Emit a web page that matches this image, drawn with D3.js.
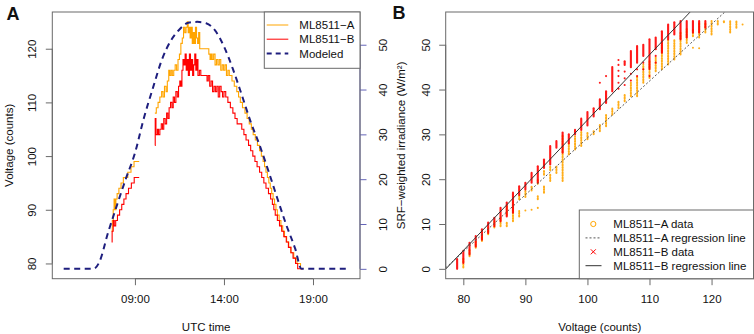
<!DOCTYPE html>
<html>
<head>
<meta charset="utf-8">
<script src="https://cdn.jsdelivr.net/npm/d3@7"></script>
<style>
  body { margin: 0; background: #fff; }
  svg { display: block; font-family: "Liberation Sans", Arial, Helvetica, sans-serif; }
  text { fill: #111; }
</style>
</head>
<body>
<div id="chart"></div>
<script>
// ---- panel A: time series (decimal UTC hours) ----
const timeA = [7.69, 7.73, 7.78, 7.83, 7.88, 7.93, 8.00, 8.10, 8.22, 8.35, 8.60, 8.78, 8.95, 9.24, 9.25,
  10.12, 10.20, 10.30, 10.40, 10.50, 10.58, 10.66, 10.75, 10.82, 10.90, 10.96, 11.03, 11.10, 11.18, 11.26,
  11.34, 11.42, 11.50, 11.58, 11.66, 11.73, 11.80, 11.87, 11.94, 11.99, 12.04, 12.10, 12.16, 12.22, 12.28,
  12.34, 12.40, 12.46, 12.52, 12.58, 12.64, 13.15, 13.22, 13.28, 13.34, 13.42, 13.50, 13.58, 13.66, 13.74,
  13.82, 13.90, 13.98, 14.06, 14.14, 14.22, 14.30, 14.45, 14.58, 14.72, 14.82, 14.92, 15.04, 15.18, 15.30,
  15.42, 15.54, 15.64, 15.76, 15.88, 16.00, 16.10, 16.20, 16.28, 16.36, 16.44, 16.52, 16.60, 16.68, 16.76,
  16.84, 16.92, 17.00, 17.10, 17.20, 17.30, 17.40, 17.52, 17.64, 17.76, 17.92, 18.10, 18.30, 18.43];
const voltA = [86, 88, 90, 92, 90, 92, 93, 94, 95, 96, 97, 98, 99, 99, null,
  108, 109, 110, 111, 112, 111, 113, 112, 114, 116, 115, 116, 115, 116, 117,
  116, 118, 119, 121, 122, 124, 123, 124, 125, 123, 124, 122, 124, 121, 123,
  121, 124, 122, 121, 123, 120, 119, 118, 119, 118, 119, 117, 118, 117, 118,
  116, 117, 116, 117, 115, 116, 115, 114, 113, 112, 111, 110, 109, 108, 107,
  106, 105, 104, 103, 102, 101, 100, 99, 98, 97, 96, 95, 94, 93, 92,
  91, 90, 89, 88, 87, 86, 85, 84, 83, 82, 81, 80, 79, 79];

const timeB = [7.69, 7.72, 7.78, 7.84, 7.92, 8.02, 8.14, 8.26, 8.38, 8.50, 8.64, 8.80, 8.96, 9.24, 9.25,
  10.12, 10.14, 10.18, 10.26, 10.32, 10.40, 10.48, 10.55, 10.62, 10.70, 10.78, 10.85, 10.92, 11.00, 11.08,
  11.15, 11.22, 11.30, 11.38, 11.45, 11.52, 11.58, 11.64, 11.70, 11.76, 11.82, 11.88, 11.94, 12.00, 12.06,
  12.12, 12.18, 12.24, 12.30, 12.36, 12.42, 12.48, 12.54, 12.62, 12.70, 13.05, 13.12, 13.20, 13.28, 13.36,
  13.44, 13.52, 13.60, 13.68, 13.76, 13.84, 13.92, 14.00, 14.10, 14.22, 14.36, 14.50, 14.62, 14.74, 14.88,
  15.00, 15.12, 15.24, 15.38, 15.50, 15.62, 15.74, 15.86, 16.00, 16.12, 16.24, 16.36, 16.50, 16.62, 16.72,
  16.80, 16.88, 17.00, 17.12, 17.24, 17.36, 17.50, 17.62, 17.76, 17.88, 18.02, 18.14, 18.43];
const voltB = [84, 86, 88, 87, 88, 89, 90, 91, 92, 93, 94, 95, 96, 96, null,
  102, 107, 104, 105, 104, 105, 106, 105, 107, 106, 108, 107, 109, 110, 109,
  111, 110, 112, 111, 113, 114, 113, 116, 118, 117, 119, 116, 118, 115, 119,
  116, 118, 115, 117, 119, 116, 118, 115, 116, 115, 114, 115, 113, 114, 112,
  113, 112, 113, 111, 113, 112, 111, 112, 111, 110, 109, 108, 107, 106, 106,
  105, 104, 103, 102, 101, 100, 99, 98, 97, 96, 95, 94, 93, 92, 91,
  90, 89, 88, 87, 86, 85, 84, 83, 82, 81, 80, 79, 79];

const timeModel = [5.0, 6.0, 6.67, 7.0, 7.5, 8.0, 8.5, 9.0, 9.5, 10.0, 10.5, 11.0, 11.5, 12.0, 12.5,
  13.0, 13.5, 14.0, 14.5, 15.0, 15.5, 16.0, 16.5, 17.0, 17.5, 18.0, 18.35, 19.0, 21.0];
const irrModel = [0, 0, 0, 1.5, 8.2, 14.3, 20.2, 25.8, 33.6, 40.2, 46.5, 50.8, 53.4, 54.9, 55.1,
  54.8, 53.2, 49.6, 44.6, 38.8, 32.8, 27.6, 21.8, 15.7, 9.8, 4.5, 0, 0, 0];

const timeTicks = [9, 14, 19];
const timeTickLabels = ["09:00", "14:00", "19:00"];

// ---- panel B: irradiance vs voltage, stacks of points per count [voltage, low, high] ----
const scatterA = [
  [80, 0.3, 2.5], [81, 2.8, 4.3], [82, 4.7, 6.2], [83, 6.2, 7.7], [84, 7.7, 9.2], [85, 9.2, 10.6],
  [86, 9.5, 11.7], [87, 9.5, 10.6], [87, 12, 14], [88, 10.6, 15.1], [89, 11.7, 12.9], [89, 15.5, 16.5],
  [90, 13.0, 13.0], [90, 16, 17.5], [91, 13.2, 13.2], [91, 17.5, 18.5], [92, 13.6, 13.6], [92, 15.5, 16.2],
  [92, 19, 20], [93, 17, 18.4], [93, 21, 22], [94, 19.6, 21], [94, 22, 23], [95, 21.4, 22.9],
  [96, 19.6, 30], [97, 25.5, 28.1], [98, 26.6, 29.6], [99, 27.4, 30.7], [100, 28.9, 30.4], [101, 30, 30.7],
  [102, 30.7, 32.2], [103, 31.8, 34.4], [104, 34.4, 35.9], [105, 35.9, 37.4], [106, 37.4, 38.9],
  [107, 38.5, 41.5], [108, 38.5, 43], [109, 41.5, 45.6], [110, 42.6, 46.3], [111, 44.1, 47.1],
  [112, 44.5, 50.4], [113, 45.6, 51.2], [114, 46.7, 51.2], [115, 47.8, 53], [116, 50.4, 53.8],
  [117, 49.3, 49.3], [117, 51.9, 53.4], [118, 49.2, 49.2], [118, 51.6, 54.9], [119, 52.7, 54.9],
  [120, 52.3, 55.3], [121, 54.5, 55.3], [122, 55, 55.3], [123, 52.7, 55.3], [124, 53.8, 55.3], [125, 54.5, 54.5]
];
const scatterB = [
  [79, 0, 2.2], [80, 1.3, 4], [81, 3.2, 5.8], [82, 5, 7.3], [83, 6.5, 8.8], [84, 8, 10.3],
  [85, 9.5, 11.4], [86, 10.6, 13.6], [87, 11.7, 14.8], [88, 12.5, 17], [89, 16.5, 18.4], [90, 17.7, 19.2],
  [91, 19.2, 21.4], [92, 19.2, 22.9], [93, 22.5, 24.4], [94, 23.3, 27.4], [95, 27, 28.5], [96, 25.9, 30.4],
  [97, 28, 30], [98, 30, 31], [99, 31, 33.5], [100, 32, 35], [101, 34, 35.8], [102, 35.6, 37.8],
  [102, 41.5, 41.5], [103, 37, 39.6], [103, 43, 43], [104, 39.6, 45],
  [105, 40.2, 40.2], [105, 41.5, 41.5], [105, 43, 43], [105, 44.2, 44.2], [105, 45.5, 45.5], [105, 46.6, 46.6],
  [106, 41, 41], [106, 42.5, 42.5], [106, 44, 44], [106, 45.5, 46.3],
  [107, 42, 42], [107, 43.5, 43.5], [107, 45, 48.6],
  [108, 43, 43], [108, 44.5, 44.5], [108, 46, 49.7],
  [109, 44.5, 44.5], [109, 46, 46], [109, 47.5, 50],
  [110, 43, 43], [110, 44.6, 51.2],
  [111, 46, 46], [111, 47.5, 47.5], [111, 49, 51.6],
  [112, 48.2, 53], [113, 51.2, 54.5], [114, 52.3, 55], [115, 51.2, 55.3],
  [116, 51.6, 55.3], [117, 52.7, 55.3], [118, 52.7, 55.3], [119, 53.8, 55.3]
];
// linear fits, irradiance = slope * counts + intercept
const fitA = { slope: 1.269, intercept: -97.7 };
const fitB = { slope: 1.456, intercept: -112.4 };

const legendA = ["ML8511\u2212A", "ML8511\u2212B", "Modeled"];
const legendB = ["ML8511\u2212A data", "ML8511\u2212A regression line", "ML8511\u2212B data", "ML8511\u2212B regression line"];

const W = 754, H = 334;
const orange = "#ffa500", red = "#ff0000", navy = "#1e1e7e", frame = "#6a6a6a";
const fs = "11.5px";

const svg = d3.select("#chart").append("svg").attr("width", W).attr("height", H);

const boxA = { l: 52.3, r: 360, t: 12, b: 278.7 };
const boxB = { l: 445.7, r: 754, t: 12, b: 278.7 };

// R style axis: line only between first and last tick
function rAxis(g, axis, scale, ticks, vertical, color) {
  g.call(axis);
  g.select(".domain").remove();
  g.selectAll(".tick line").attr("stroke", color || frame);
  const ext = d3.extent(ticks.map(scale));
  g.append("line")
    .attr(vertical ? "y1" : "x1", ext[0]).attr(vertical ? "y2" : "x2", ext[1])
    .attr("stroke", color || frame);
  g.selectAll(".tick text").style("font-size", fs).attr("fill", "#111");
}

// ================= panel A =================
const xA = d3.scaleLinear().domain([4.36, 21.64]).range([boxA.l, boxA.r]);
const yA = d3.scaleLinear().domain([77.16, 126.84]).range([boxA.b, boxA.t]);
const yA2 = d3.scaleLinear().domain([-2.2, 57.3]).range([boxA.b, boxA.t]);

const gA = svg.append("g");

const lineA = d3.line().defined(d => d[1] !== null).x(d => xA(d[0])).y(d => yA(d[1])).curve(d3.curveStepAfter);

gA.append("path")
  .datum(timeA.map((t, i) => [t, voltA[i]]))
  .attr("d", lineA).attr("fill", "none").attr("stroke", orange).attr("stroke-width", 1.1);

gA.append("path")
  .datum(timeB.map((t, i) => [t, voltB[i]]))
  .attr("d", lineA).attr("fill", "none").attr("stroke", red).attr("stroke-width", 1.1);

gA.append("path")
  .datum(timeModel.map((t, i) => [t, irrModel[i]]))
  .attr("d", d3.line().x(d => xA(d[0])).y(d => yA2(d[1])).curve(d3.curveMonotoneX))
  .attr("fill", "none").attr("stroke", navy).attr("stroke-width", 2)
  .attr("stroke-dasharray", "6,4.5");

// left axis
const axLA = gA.append("g").attr("transform", `translate(${boxA.l},0)`);
rAxis(axLA, d3.axisLeft(yA).tickValues([80, 90, 100, 110, 120]).tickSize(6.5), yA, [80, 120], true);
axLA.selectAll(".tick text").attr("x", null).attr("dy", null).attr("text-anchor", "middle")
  .attr("transform", "translate(-16.3,0) rotate(-90)");

// right axis (irradiance)
const axRA = gA.append("g").attr("transform", `translate(${boxA.r},0)`);
rAxis(axRA, d3.axisRight(yA2).tickValues([0, 10, 20, 30, 40, 50]).tickSize(6.5), yA2, [0, 50], true, "#6464b8");
axRA.selectAll(".tick text").attr("x", null).attr("dy", null).attr("text-anchor", "middle")
  .attr("transform", "translate(26.7,0) rotate(-90)");

// bottom axis
const axBA = gA.append("g").attr("transform", `translate(0,${boxA.b})`);
rAxis(axBA, d3.axisBottom(xA).tickValues(timeTicks).tickFormat((d, i) => timeTickLabels[i]).tickSize(6.5), xA, timeTicks, false);
axBA.selectAll(".tick text").attr("y", 24.6).attr("dy", null);

gA.append("rect")
  .attr("x", boxA.l).attr("y", boxA.t).attr("width", boxA.r - boxA.l).attr("height", boxA.b - boxA.t)
  .attr("fill", "none").attr("stroke", frame);

gA.append("text").attr("text-anchor", "middle")
  .attr("transform", `translate(13,${(boxA.t + boxA.b) / 2}) rotate(-90)`)
  .style("font-size", fs).text("Voltage (counts)");
gA.append("text").attr("text-anchor", "middle")
  .attr("x", (boxA.l + boxA.r) / 2).attr("y", 331)
  .style("font-size", fs).text("UTC time");
gA.append("text").attr("x", 6.5).attr("y", 19.6)
  .style("font-size", "18px").style("font-weight", "bold").text("A");

// legend A
const legA = gA.append("g");
legA.append("rect").attr("x", 264.3).attr("y", boxA.t).attr("width", boxA.r - 264.3).attr("height", 56.3)
  .attr("fill", "#fff").attr("stroke", frame);
const legAStyle = [
  { c: orange, w: 1, dash: null },
  { c: red, w: 1, dash: null },
  { c: navy, w: 2, dash: "5,4" }
];
legendA.forEach((label, i) => {
  const cy = 25 + i * 14.2;
  legA.append("line").attr("x1", 266.7).attr("x2", 288.3).attr("y1", cy).attr("y2", cy)
    .attr("stroke", legAStyle[i].c).attr("stroke-width", legAStyle[i].w)
    .attr("stroke-dasharray", legAStyle[i].dash);
  legA.append("text").attr("x", 299.3).attr("y", cy + 4.2).style("font-size", fs).text(label);
});

// ================= panel B =================
const xB = d3.scaleLinear().domain([77.16, 126.84]).range([boxB.l, boxB.r]);
const yB = d3.scaleLinear().domain([-2.2, 57.3]).range([boxB.b, boxB.t]);

const gB = svg.append("g");
gB.append("clipPath").attr("id", "clipB").append("rect")
  .attr("x", boxB.l).attr("y", boxB.t).attr("width", boxB.r - boxB.l).attr("height", boxB.b - boxB.t);

const plotB = gB.append("g").attr("clip-path", "url(#clipB)");

// stacked point columns: dotted for the hollow circles, near solid for the crosses
plotB.selectAll(".ptA").data(scatterA).enter().append("line")
  .attr("class", "ptA")
  .attr("x1", d => xB(d[0])).attr("x2", d => xB(d[0]))
  .attr("y1", d => yB(d[1])).attr("y2", d => yB(d[2]) - 0.01)
  .attr("stroke", orange).attr("stroke-width", 2).attr("stroke-linecap", "round")
  .attr("stroke-dasharray", "1,1.6").attr("opacity", 0.9);

plotB.selectAll(".ptB").data(scatterB).enter().append("line")
  .attr("class", "ptB")
  .attr("x1", d => xB(d[0])).attr("x2", d => xB(d[0]))
  .attr("y1", d => yB(d[1])).attr("y2", d => yB(d[2]) - 0.01)
  .attr("stroke", red).attr("stroke-width", 2.1).attr("stroke-linecap", "round").attr("opacity", 0.9);

const dom = xB.domain();
plotB.append("line")
  .attr("x1", xB(dom[0])).attr("y1", yB(fitA.slope * dom[0] + fitA.intercept))
  .attr("x2", xB(dom[1])).attr("y2", yB(fitA.slope * dom[1] + fitA.intercept))
  .attr("stroke", "#555").attr("stroke-width", 1).attr("stroke-dasharray", "2,2");
plotB.append("line")
  .attr("x1", xB(dom[0])).attr("y1", yB(fitB.slope * dom[0] + fitB.intercept))
  .attr("x2", xB(dom[1])).attr("y2", yB(fitB.slope * dom[1] + fitB.intercept))
  .attr("stroke", "#333").attr("stroke-width", 1);

const axLB = gB.append("g").attr("transform", `translate(${boxB.l},0)`);
rAxis(axLB, d3.axisLeft(yB).tickValues([0, 10, 20, 30, 40, 50]).tickSize(6.5), yB, [0, 50], true);
axLB.selectAll(".tick text").attr("x", null).attr("dy", null).attr("text-anchor", "middle")
  .attr("transform", "translate(-15.7,0) rotate(-90)");

const axBB = gB.append("g").attr("transform", `translate(0,${boxB.b})`);
rAxis(axBB, d3.axisBottom(xB).tickValues([80, 90, 100, 110, 120]).tickSize(6.5), xB, [80, 120], false);
axBB.selectAll(".tick text").attr("y", 24.6).attr("dy", null);

gB.append("rect")
  .attr("x", boxB.l).attr("y", boxB.t).attr("width", boxB.r - boxB.l - 0.5).attr("height", boxB.b - boxB.t)
  .attr("fill", "none").attr("stroke", frame);

gB.append("text").attr("text-anchor", "middle")
  .attr("transform", `translate(405,${(boxB.t + boxB.b) / 2}) rotate(-90)`)
  .style("font-size", fs).text("SRF\u2212weighted irradiance (W/m\u00b2)");
gB.append("text").attr("text-anchor", "middle")
  .attr("x", (boxB.l + boxB.r) / 2).attr("y", 331)
  .style("font-size", fs).text("Voltage (counts)");
gB.append("text").attr("x", 392.5).attr("y", 19.2)
  .style("font-size", "18px").style("font-weight", "bold").text("B");

// legend B
const legB = gB.append("g");
legB.append("rect").attr("x", 579.3).attr("y", 210).attr("width", boxB.r - 0.5 - 579.3).attr("height", boxB.b - 210)
  .attr("fill", "#fff").attr("stroke", frame);
legendB.forEach((label, i) => {
  const cy = 224 + i * 13.9;
  if (i === 0) {
    legB.append("circle").attr("cx", 593.3).attr("cy", cy).attr("r", 2.6)
      .attr("fill", "none").attr("stroke", orange).attr("stroke-width", 1);
  } else if (i === 2) {
    legB.append("path").attr("d", `M${590.8},${cy - 2.5}L${595.8},${cy + 2.5}M${590.8},${cy + 2.5}L${595.8},${cy - 2.5}`)
      .attr("stroke", red).attr("stroke-width", 1);
  } else {
    legB.append("line").attr("x1", 585.5).attr("x2", 601.5).attr("y1", cy).attr("y2", cy)
      .attr("stroke", i === 1 ? "#555" : "#333").attr("stroke-width", 1)
      .attr("stroke-dasharray", i === 1 ? "2,2" : null);
  }
  legB.append("text").attr("x", 613.3).attr("y", cy + 4.2).style("font-size", fs).text(label);
});
</script>
</body>
</html>
